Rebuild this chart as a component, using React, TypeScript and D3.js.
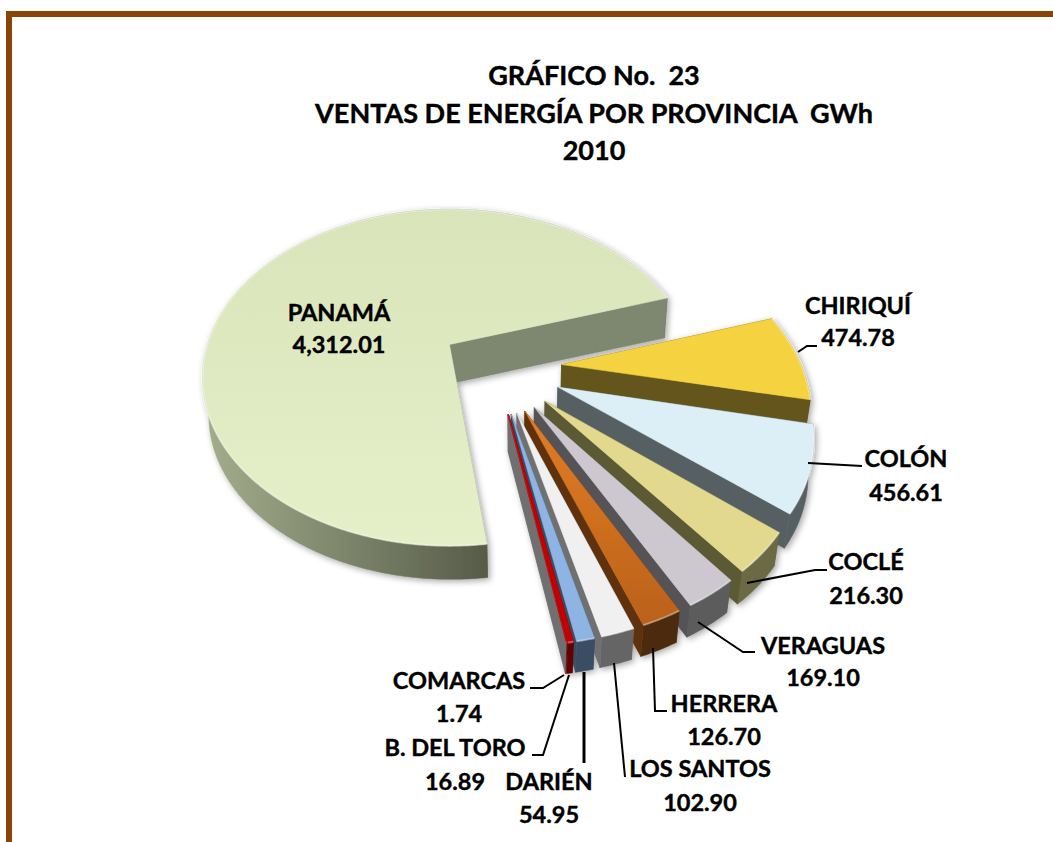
import React, { useEffect, useRef } from 'react';
import * as d3 from 'd3';

const titleLines = ['GRÁFICO No.  23', 'VENTAS DE ENERGÍA POR PROVINCIA  GWh', '2010'];

const provinces = ['PANAMÁ', 'CHIRIQUÍ', 'COLÓN', 'COCLÉ', 'VERAGUAS', 'HERRERA', 'LOS SANTOS', 'DARIÉN', 'B. DEL TORO', 'COMARCAS'];
const sales = [4312.01, 474.78, 456.61, 216.3, 169.1, 126.7, 102.9, 54.95, 16.89, 1.74];
const valueLabels = ['4,312.01', '474.78', '456.61', '216.30', '169.10', '126.70', '102.90', '54.95', '16.89', '1.74'];

const topColors = ['url(#panamaTop)', '#f5d33f', '#dceff6', '#e3d98e', '#cdc8cf', 'url(#herreraTop)', '#f0f0f0', '#8db4e3', '#c80000', '#c80000'];
const edgeColors = ['#7e8770', '#63551a', '#566163', '#5c5a34', '#545356', '#5f3208', '#6f6f6f', '#3b4d65', '#650000', '#707070'];
const rimColors = ['url(#panamaRim)', '#63551a', '#566163', '#6a6a44', '#5c5c5c', '#4c2a0c', '#656565', '#3b4d65', '#650000', '#650000'];

// label anchor [x, first baseline, second baseline]
const labelSpots = [
  [339, 321, 353], [858, 314, 346], [906, 467, 501], [866, 570, 604], [823, 654, 686],
  [724, 712, 745], [700, 777, 811], [549, 790, 823], [455, 756, 790], [459, 689, 722],
];

const leaders: number[][][] = [
  [],
  [[798, 352], [807, 346], [817, 346]],
  [[808, 463], [862, 466]],
  [[747, 583], [815, 570], [827, 570]],
  [[698, 622], [743, 652], [755, 652]],
  [[653, 648], [655, 711], [667, 711]],
  [[614, 663], [625, 777]],
  [[584, 672], [584, 763]],
  [[569, 675], [543, 755], [532, 755]],
  [[564, 675], [543, 688], [530, 688]],
];

const deg = Math.PI / 180;
const font = 'Lato, sans-serif';

// pie plane to screen, with the perspective of the tilted disc
const planeX = 450, planeY = 344, spanX = 242, spanY = 161.6, tilt = 0.196;
const project = (u: number, v: number): [number, number] => {
  const w = 1 - tilt * v;
  return [planeX + (spanX * u) / w, planeY + (spanY * v) / w];
};

const depth = d3.scaleLinear().domain([300, 640]).range([40, 31]).clamp(true);
const drop = ([x, y]: [number, number]): [number, number] => [x - (x - 520) * 0.02, y + depth(y)];

function PieChart() {
  const chartRef = useRef<SVGSVGElement>(null);

  useEffect(() => {
    const svg = d3.select(chartRef.current);
    svg.selectAll('*').remove();

    const defs = svg.append('defs');
    const gradient = (id: string, attrs: number[], stops: string[]) => {
      const g = defs.append('linearGradient').attr('id', id).attr('gradientUnits', 'userSpaceOnUse')
        .attr('x1', attrs[0]).attr('y1', attrs[1]).attr('x2', attrs[2]).attr('y2', attrs[3]);
      stops.forEach((c, i) => g.append('stop').attr('offset', i / (stops.length - 1)).attr('stop-color', c));
    };
    gradient('panamaTop', [0, 210, 0, 545], ['#dae4ba', '#e5f0c9']);
    gradient('panamaRim', [205, 0, 490, 0], ['#a3ad8b', '#7c846a', '#565a48']);
    gradient('herreraTop', [0, 420, 0, 640], ['#e07c24', '#b75f19']);

    const shadow = defs.append('filter').attr('id', 'soft').attr('x', '-10%').attr('y', '-10%').attr('width', '120%').attr('height', '120%');
    shadow.append('feDropShadow').attr('dx', 2).attr('dy', 2).attr('stdDeviation', 3).attr('flood-color', '#000').attr('flood-opacity', 0.35);

    // border, only top and left in the picture
    svg.append('rect').attr('x', 6).attr('y', 11).attr('width', 1047).attr('height', 6).attr('fill', '#8a4408');
    svg.append('rect').attr('x', 6).attr('y', 11).attr('width', 6).attr('height', 831).attr('fill', '#8a4408');

    svg.selectAll('text.title')
      .data(titleLines)
      .enter()
      .append('text')
      .attr('class', 'title')
      .attr('x', 594)
      .attr('y', (d, i) => 85 + i * 37.5)
      .attr('text-anchor', 'middle')
      .attr('font-family', font)
      .attr('font-weight', 700)
      .attr('font-size', 27)
      .attr('stroke', '#000')
      .attr('stroke-width', 0.4)
      .style('white-space', 'pre')
      .text(d => d);

    const pie = d3.pie<number>().sort(null).value(d => d).startAngle(172.8 * deg).endAngle(532.8 * deg);
    const arcs = pie(sales);

    const panamaMid = (arcs[0].startAngle + arcs[0].endAngle) / 2;
    const centerU = -0.22 * Math.sin(panamaMid);
    const centerV = 0.22 * Math.cos(panamaMid);

    // the fan sits a little further round than the values alone would put it
    const fanAngle = d3.scaleLinear()
      .domain([arcs[1].startAngle, arcs[9].endAngle])
      .range([arcs[1].startAngle - 1.7 * deg, arcs[9].endAngle - 0.7 * deg]);

    const line = d3.line();
    const pieGroup = svg.append('g').attr('filter', 'url(#soft)');

    arcs.forEach((a, i) => {
      const start = i === 0 ? a.startAngle : fanAngle(a.startAngle);
      const end = i === 0 ? a.endAngle - 2.2 * deg : fanAngle(a.endAngle);
      const mid = (start + end) / 2;
      const explode = i === 0 ? 0.22 : 0.267;
      const radius = i === 0 ? 1 : 0.965;
      const apexU = centerU + explode * Math.sin(mid);
      const apexV = centerV - explode * Math.cos(mid) + (i === 0 ? 0 : 0.015);
      const apex = project(apexU, apexV);
      const edge = d3.range(start, end, 0.008).concat(end)
        .map(t => project(apexU + radius * Math.sin(t), apexV - radius * Math.cos(t)));
      const first = edge[0];
      const last = edge[edge.length - 1];

      const g = pieGroup.append('g');
      const wall = (top: [number, number][], fill: string) => g.append('path')
        .attr('d', line(top.concat(top.map(drop).reverse())) + 'Z')
        .attr('fill', fill)
        .attr('stroke', fill)
        .attr('stroke-width', 0.5);

      wall([apex, first], edgeColors[i]);
      wall(edge, rimColors[i]);
      wall([apex, last], edgeColors[i]);

      g.append('path')
        .attr('d', line([apex, ...edge]) + 'Z')
        .attr('fill', topColors[i])
        .attr('stroke', topColors[i])
        .attr('stroke-width', 0.5);
      g.append('path')
        .attr('d', line(edge))
        .attr('fill', 'none')
        .attr('stroke', '#fff')
        .attr('stroke-opacity', 0.35)
        .attr('stroke-width', 2);
    });

    svg.selectAll('path.leader')
      .data(leaders.filter(d => d.length))
      .enter()
      .append('path')
      .attr('class', 'leader')
      .attr('d', d => line(d as [number, number][]))
      .attr('fill', 'none')
      .attr('stroke', '#000')
      .attr('stroke-width', (d, i) => (i === 6 ? 3 : 2));

    provinces.forEach((name, i) => {
      const [x, y1, y2] = labelSpots[i];
      [name, valueLabels[i]].forEach((t, j) => {
        svg.append('text')
          .attr('x', x)
          .attr('y', j === 0 ? y1 : y2)
          .attr('text-anchor', 'middle')
          .attr('font-family', font)
          .attr('font-weight', 700)
          .attr('font-size', 23.5)
          .attr('stroke', '#000')
          .attr('stroke-width', 0.4)
          .text(t);
      });
    });
  }, []);

  return <svg ref={chartRef} width={1053} height={842} style={{ position: 'absolute', left: 0, top: 0, display: 'block' }}></svg>;
}

export default function App() {
  return <PieChart />;
}
